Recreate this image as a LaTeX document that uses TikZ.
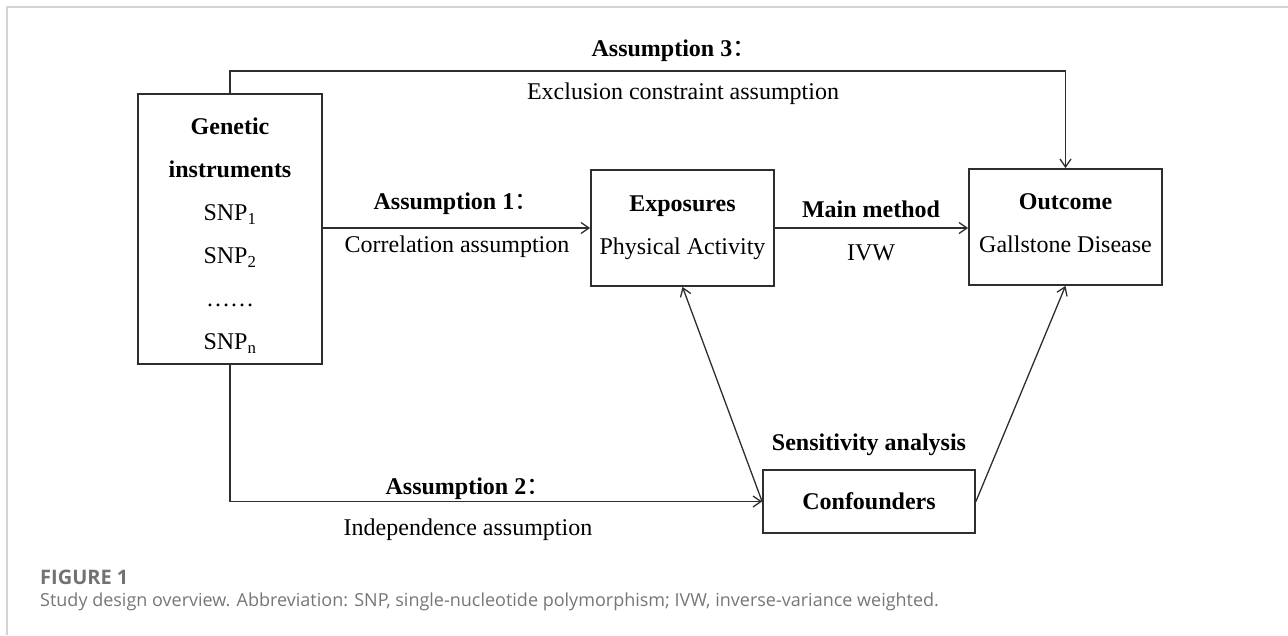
\documentclass[tikz,border=0pt]{standalone}
\usepackage{fontspec}
\setmainfont{Liberation Serif}
\newfontfamily\capfont{Open Sans}
\newfontfamily\cjk{Noto Sans CJK SC}
\usetikzlibrary{arrows.meta}
\definecolor{framegray}{HTML}{D4D4D4}
\definecolor{figgray}{HTML}{727272}
\definecolor{capgray}{HTML}{767676}
\definecolor{linegray}{HTML}{2E2E2E}
\newcommand{\fcolon}{{\cjk\mdseries ：}}
\begin{document}
\begin{tikzpicture}[x=1pt,y=-1pt,
  every node/.style={font=\fontsize{24}{43}\selectfont},
  box/.style={draw=linegray,line width=1.8pt,rectangle,align=center,inner sep=0pt},
  lab/.style={inner sep=0pt},
  conn/.style={draw=linegray,line width=1.3pt,-{Straight Barb[length=8pt,width=11pt]}},
  capt/.style={anchor=west,inner sep=0pt,font=\capfont\fontsize{18}{22}\selectfont}]
\useasboundingbox (0,0) rectangle (1288,635);
\draw[framegray,line width=1.5pt] (7,635) -- (7,7) -- (1288,7);
\node[box,minimum width=184pt,minimum height=270pt] (gen) at (230,229)
    {\rule{0pt}{30pt}\textbf{Genetic}\\\textbf{instruments}\\SNP\textsubscript{1}\\SNP\textsubscript{2}\\……\\SNP\textsubscript{n}};
\node[box,minimum width=183pt,minimum height=116pt] (expo) at (682.5,228)
    {\textbf{Exposures}\\Physical Activity};
\node[box,minimum width=193pt,minimum height=116pt] (outc) at (1065.5,227)
    {\textbf{Outcome}\\Gallstone Disease\rule[-8pt]{0pt}{8pt}};
\node[box,minimum width=212pt,minimum height=63pt] (conf) at (869,501.5)
    {\textbf{Confounders}};
\draw[conn] (gen.north) -- ++(0,-22) -| (outc.north);
\draw[conn] (gen.east |- expo.west) -- (expo.west);
\draw[conn] (expo.east) -- (outc.west |- expo.east);
\draw[conn] (gen.south) |- (conf.west);
\draw[conn] (conf.west) -- (expo.south);
\draw[conn] (conf.east) -- (outc.south);
\node[lab] (as3) at (674,51) {\textbf{Assumption 3\fcolon}};
\node[lab] (as3t) at (683,94) {Exclusion constraint assumption};
\node[lab] (as1) at (456,204) {\textbf{Assumption 1\fcolon}};
\node[lab] (as1t) at (457,247) {Correlation assumption};
\node[lab] (main) at (871,209) {\textbf{Main method}};
\node[lab] (ivw) at (871,253) {IVW};
\node[lab] (as2) at (468,489) {\textbf{Assumption 2\fcolon}};
\node[lab] (as2t) at (468,530) {Independence assumption};
\node[lab] (sens) at (869,445) {\textbf{Sensitivity analysis}};
\node[capt,text=figgray,font=\capfont\bfseries\fontsize{20}{24}\selectfont] (fig) at (40,577) {FIGURE 1};
\node[capt,text=capgray] (cap) at (40,602) {Study design overview. Abbreviation: SNP, single-nucleotide polymorphism; IVW, inverse-variance weighted.};
\end{tikzpicture}
\end{document}
